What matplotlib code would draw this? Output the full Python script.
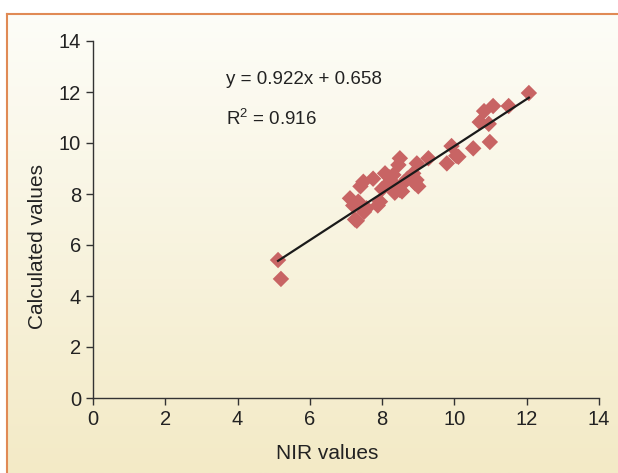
import matplotlib.pyplot as plt
import numpy as np

plt.rcParams['mathtext.fontset'] = 'custom'
plt.rcParams['mathtext.rm'] = 'Liberation Sans'
plt.rcParams['mathtext.it'] = 'Liberation Sans:italic'

# NIR vs calculated values
nir_values = [5.12, 5.20, 7.11, 7.20, 7.34, 7.25, 7.30, 7.48, 7.40, 7.57, 7.50,
              7.94, 7.88, 8.00, 8.08, 8.20, 8.31, 8.35, 8.45, 8.49, 8.49, 8.55,
              8.40, 8.70, 8.86, 8.91, 8.96, 9.00, 8.95, 9.28, 9.79, 9.92, 10.05,
              10.11, 10.52, 10.70, 10.82, 10.95, 10.98, 11.07, 11.50, 12.06,
              8.15, 7.75, 8.60]
calc_values = [5.41, 4.67, 7.83, 7.55, 7.70, 7.00, 6.95, 8.48, 8.30, 7.44, 7.30,
               7.70, 7.55, 8.20, 8.81, 8.65, 8.75, 8.05, 9.14, 9.40, 8.16, 8.10,
               8.30, 8.60, 8.81, 8.42, 9.20, 8.30, 8.55, 9.40, 9.20, 9.88, 9.50,
               9.46, 9.79, 10.82, 11.25, 10.75, 10.04, 11.45, 11.45, 11.96,
               8.40, 8.60, 8.45]

slope = 0.922
intercept = 0.658
r_squared = 0.916

fig = plt.figure(figsize=(6.18, 4.73), dpi=100)
fig.patch.set_facecolor('white')

# gradient background panel with orange frame
bg = fig.add_axes([7 / 618, 0, 1 - 7 / 618, 1 - 14 / 473], zorder=0)
grad = np.linspace(0, 1, 256).reshape(-1, 1)
top = np.array([253, 253, 248]) / 255
bottom = np.array([243, 234, 198]) / 255
img = top + (bottom - top) * grad[:, :, None]
bg.imshow(img, aspect='auto', extent=[0, 1, 0, 1], origin='upper')
bg.set_xlim(0, 1)
bg.set_ylim(0, 1)
for side in ['right', 'bottom']:
    bg.spines[side].set_visible(False)
for side in ['top', 'left']:
    bg.spines[side].set_color('#E08A55')
    bg.spines[side].set_linewidth(1.5)
bg.set_xticks([])
bg.set_yticks([])

ax = fig.add_axes([93 / 618, 1 - 398 / 473, 506 / 618, 357 / 473], zorder=1)
ax.patch.set_alpha(0)

ax.scatter(nir_values, calc_values, marker='D', s=70, color='#C86464',
           edgecolors='none', zorder=2)
xs = np.array([min(nir_values), max(nir_values)])
ax.plot(xs, slope * xs + intercept, color='#1a1a1a', lw=1.6, zorder=3)

ax.text(0.262, 0.893, 'y = %.3fx + %.3f' % (slope, intercept), transform=ax.transAxes,
        fontsize=13.5, family='Liberation Sans', color='#222222', va='center')
ax.text(0.262, 0.783, 'R$^2$ = %.3f' % r_squared, transform=ax.transAxes,
        fontsize=13.5, family='Liberation Sans', color='#222222', va='center')

ax.set_xlim(0, 14)
ax.set_ylim(0, 14)
ax.set_xticks(range(0, 15, 2))
ax.set_yticks(range(0, 15, 2))
for side in ['top', 'right']:
    ax.spines[side].set_visible(False)
for side in ['left', 'bottom']:
    ax.spines[side].set_color('#333333')
    ax.spines[side].set_linewidth(1.0)
ax.tick_params(direction='out', length=5, width=1, color='#333333',
               labelsize=14.5, labelcolor='#222222')
for lbl in ax.get_xticklabels() + ax.get_yticklabels():
    lbl.set_family('Liberation Sans')

ax.set_xlabel('NIR values', fontsize=15, family='Liberation Sans', color='#222222')
ax.set_ylabel('Calculated values', fontsize=15, family='Liberation Sans', color='#222222')
ax.xaxis.set_label_coords(0.463, -0.129)
ax.yaxis.set_label_coords(-0.091, 0.424)

fig.savefig('out.png', dpi=100)
